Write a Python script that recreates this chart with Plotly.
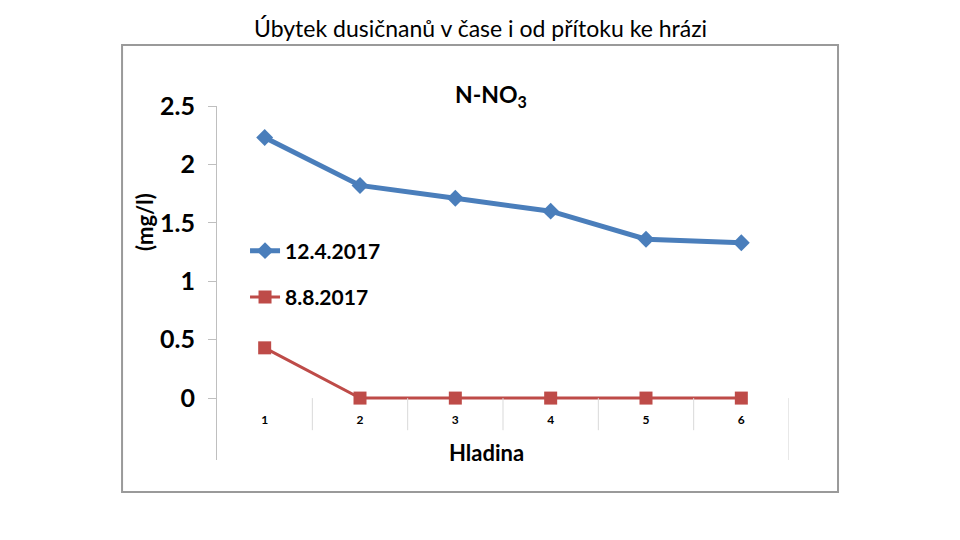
import plotly.graph_objects as go

hladina = [1, 2, 3, 4, 5, 6]
nno3_duben = [2.23, 1.82, 1.71, 1.60, 1.36, 1.33]
nno3_srpen = [0.43, 0.0, 0.0, 0.0, 0.0, 0.0]
y_ticks = [0, 0.5, 1, 1.5, 2, 2.5]
y_labels = ["0", "0.5", "1", "1.5", "2", "2.5"]

FONT = "Lato"
BLUE = "#4A7EBB"
RED = "#BE4B48"

y_min, y_max = -0.53, 2.5

fig = go.Figure()
fig.add_trace(go.Scatter(
    x=hladina, y=nno3_duben, name="12.4.2017",
    mode="lines+markers", legendgroup="a",
    line=dict(color=BLUE, width=5),
    marker=dict(symbol="diamond", size=13, color=BLUE),
))
fig.add_trace(go.Scatter(
    x=hladina, y=nno3_srpen, name="8.8.2017",
    mode="lines+markers", legendgroup="b",
    line=dict(color=RED, width=3),
    marker=dict(symbol="square", size=13, color=RED),
))

# separators under the zero line, between categories
shapes = []
for h in hladina[:-1]:
    shapes.append(dict(type="line", xref="x", yref="y", x0=h + 0.5, x1=h + 0.5,
                       y0=0, y1=-0.275, line=dict(color="#d9d9d9", width=1)))
shapes.append(dict(type="line", xref="x", yref="y", x0=hladina[-1] + 0.5, x1=hladina[-1] + 0.5,
                   y0=0, y1=y_min, line=dict(color="#d0d0d0", width=1)))
# outer chart frame
shapes.append(dict(type="rect", xref="paper", yref="paper", x0=-0.166, x1=1.0857,
                   y0=-0.0904, y1=1.172, line=dict(color="#9a9a9a", width=2),
                   layer="below"))

fig.update_layout(
    width=960, height=540,
    margin=dict(l=217, r=171, t=106, b=80),
    paper_bgcolor="white", plot_bgcolor="white",
    font=dict(family=FONT, color="black"),
    showlegend=True,
    legend=dict(x=0.049, y=(460 - 274) / 354, xanchor="left", yanchor="middle",
                bgcolor="rgba(0,0,0,0)", tracegroupgap=16, itemwidth=30,
                font=dict(size=21, family=FONT, weight="bold")),
    xaxis=dict(range=[0.5, 6.5], tickvals=hladina, ticktext=[str(h) for h in hladina],
               showgrid=False, zeroline=False, showline=False, ticks="",
               anchor="free", position=(0 - y_min) / (y_max - y_min),
               ticklabelstandoff=13,
               tickfont=dict(size=12, family=FONT, weight="bold")),
    yaxis=dict(range=[y_min, y_max], tickvals=y_ticks, ticktext=y_labels,
               showgrid=False, zeroline=False, showline=True, linecolor="#bfbfbf",
               linewidth=1, ticks="outside", ticklen=8, tickcolor="#bfbfbf",
               ticklabelstandoff=8,
               tickfont=dict(size=25, family=FONT, weight="bold")),
    shapes=shapes,
    annotations=[
        dict(text="Úbytek dusičnanů v čase i od přítoku ke hrázi", xref="paper", yref="paper",
             x=(480 - 217) / 572, y=(460 - 28) / 354, xanchor="center", yanchor="middle",
             showarrow=False, font=dict(size=23, family=FONT)),
        dict(text="<b>N-NO<sub>3</sub></b>", xref="paper", yref="paper",
             x=(491 - 217) / 572, y=(460 - 95) / 354, xanchor="center", yanchor="middle",
             showarrow=False, font=dict(size=23, family=FONT)),
        dict(text="<b>(mg/l)</b>", xref="paper", yref="paper",
             x=(144 - 217) / 572, y=(460 - 222) / 354, xanchor="center", yanchor="middle",
             showarrow=False, textangle=-90, font=dict(size=22, family=FONT)),
        dict(text="<b>Hladina</b>", xref="paper", yref="paper",
             x=(486 - 217) / 572, y=(460 - 452) / 354, xanchor="center", yanchor="middle",
             showarrow=False, font=dict(size=22, family=FONT)),
    ],
)

fig.write_html("out.html", config={"displayModeBar": False},
               post_script="document.body.style.margin = '0';")
